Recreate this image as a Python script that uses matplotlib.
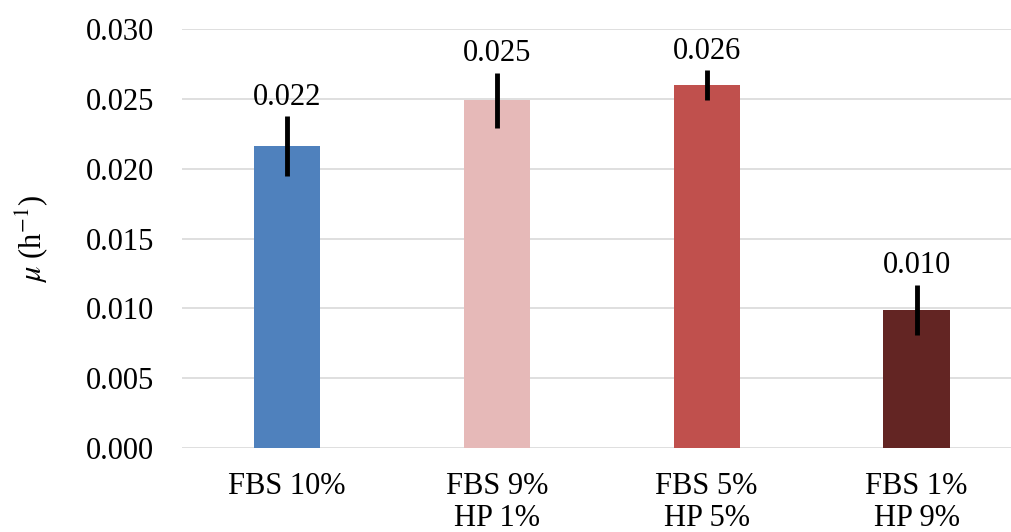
import matplotlib.pyplot as plt

plt.rcParams['font.family'] = ['Liberation Serif', 'DejaVu Serif']
plt.rcParams['mathtext.fontset'] = 'stix'

groups = ["FBS 10%", "FBS 9%\nHP 1%", "FBS 5%\nHP 5%", "FBS 1%\nHP 9%"]
mu = [0.0216, 0.0249, 0.0260, 0.0099]
err = [0.00215, 0.0020, 0.0011, 0.0018]
labels = ["0.022", "0.025", "0.026", "0.010"]
colors = ["#4F81BD", "#E6B9B8", "#C0504D", "#632523"]

fig = plt.figure(figsize=(10.11, 5.32), dpi=100)
ax = fig.add_axes([0.18, 0.158, 0.82, 0.787])

x = range(len(groups))
ax.bar(x, mu, width=0.315, color=colors, zorder=2)
ax.errorbar(x, mu, yerr=err, fmt='none', ecolor='black', elinewidth=3.5, capsize=0, zorder=3)

for xi, v, e, lab in zip(x, mu, err, labels):
    ax.annotate(lab, (xi, v + e), xytext=(0, 3), textcoords='offset points',
                ha='center', va='bottom', fontsize=22)

ax.set_ylim(0, 0.030)
ax.set_xlim(-0.5, 3.45)
ax.set_yticks([0.000, 0.005, 0.010, 0.015, 0.020, 0.025, 0.030])
ax.set_yticklabels(["%.3f" % t for t in ax.get_yticks()], fontsize=22)
ax.set_xticks(list(x))
ax.set_xticklabels(groups, fontsize=22, linespacing=1.15)
ax.tick_params(axis='x', length=0, pad=17)
ax.tick_params(axis='y', length=0, pad=20)
ax.grid(axis='y', color='#D9D9D9', linewidth=1.2, zorder=0)
for s in ax.spines.values():
    s.set_visible(False)

ax.set_ylabel(r'$\mu$ (h$^{-1}$)', fontsize=22, labelpad=26)

fig.savefig('out.png', dpi=100)
